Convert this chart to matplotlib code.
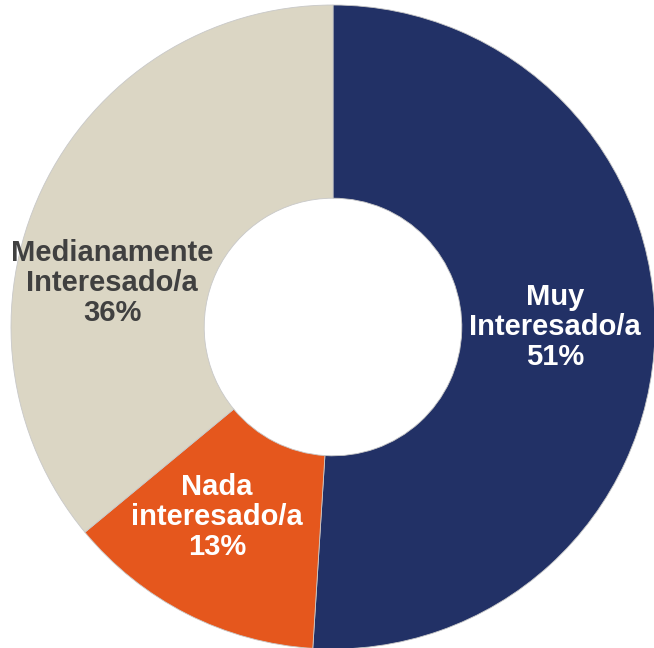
import matplotlib.pyplot as plt

labels = ['Muy\nInteresado/a\n51%', 'Nada\ninteresado/a\n13%', 'Medianamente\nInteresado/a\n36%']
values = [51, 13, 36]
colors = ['#223166', '#E5571D', '#DBD6C4']
text_colors = ['white', 'white', '#404040']
# label anchor points (data units, outer radius = 1)
label_xy = [(0.69, 0.0), (-0.36, -0.59), (-0.686, 0.137)]

fig = plt.figure(figsize=(6.54, 6.48), dpi=100)
ax = fig.add_axes([0, 0, 1, 1])

ax.pie(values, colors=colors, startangle=90, counterclock=False, radius=1,
       wedgeprops=dict(width=0.6, edgecolor='#c8c8c8', linewidth=0.6))

for lab, (x, y), c in zip(labels, label_xy, text_colors):
    ax.text(x, y, lab, ha='center', va='center', color=c, fontsize=21,
            fontweight='bold', family='Liberation Sans', linespacing=1.08)

r = 322.0
ax.set_xlim(-333 / r, (654 - 333) / r)
ax.set_ylim(-321 / r, 327 / r)
ax.set_aspect('equal')
ax.axis('off')

fig.savefig('out.png', dpi=100)
